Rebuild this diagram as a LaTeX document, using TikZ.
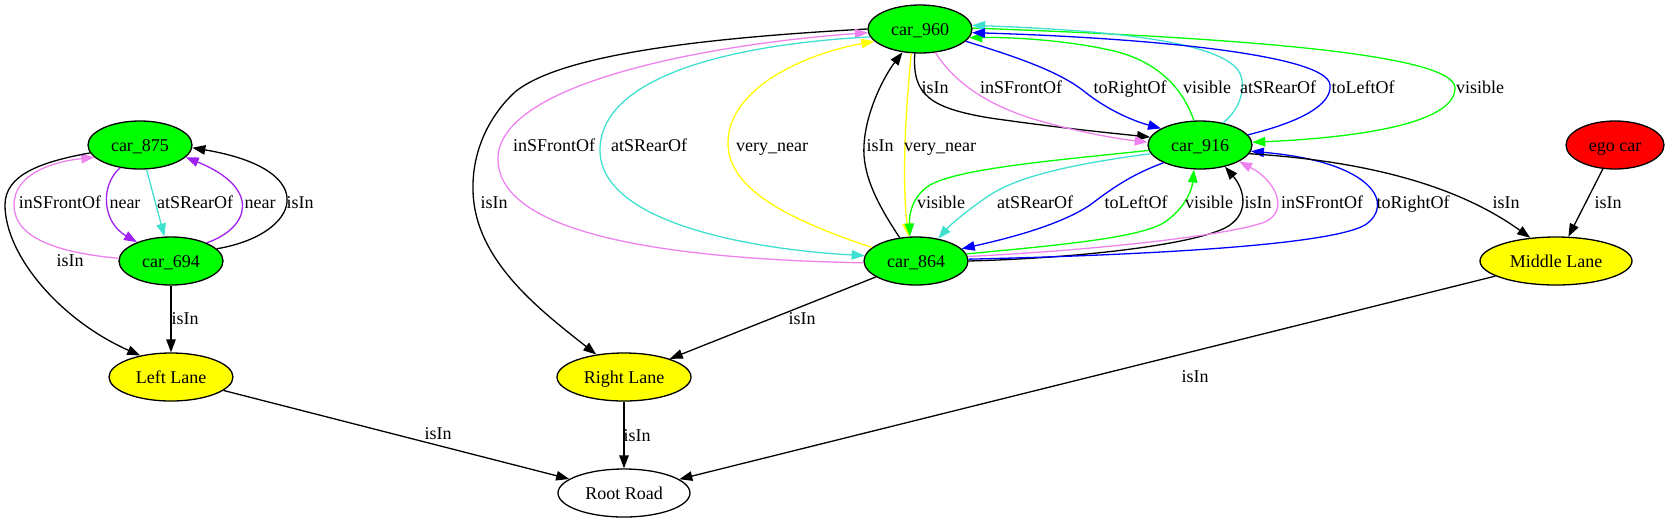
\documentclass[tikz,border=0pt]{standalone}
\usepackage{fontspec}
\setmainfont{Liberation Serif}
\usetikzlibrary{shapes.geometric,arrows.meta}
\definecolor{gvgreen}{RGB}{0,255,0}
\definecolor{gvyellow}{RGB}{255,255,0}
\definecolor{gvred}{RGB}{255,0,0}
\definecolor{cviolet}{RGB}{238,130,238}
\definecolor{cturq}{RGB}{64,224,208}
\definecolor{cpurple}{RGB}{160,32,240}
\definecolor{cblue}{RGB}{0,0,255}
\begin{document}
\begin{tikzpicture}[x=1pt,y=-1pt,font=\fontsize{18}{21}\selectfont,
  gnode/.style={ellipse,draw=black,line width=1.3pt,inner sep=0pt,minimum height=48pt,text height=12.5pt,text depth=0pt},
  car/.style={gnode,fill=gvgreen,minimum width=104pt},
  lane/.style={gnode,fill=gvyellow},
  edge/.style={line width=1.3pt,-{Triangle[length=13pt,width=9.5pt]}},
  lbl/.style={inner sep=0pt,text height=12pt,text depth=0pt,anchor=center}]
\useasboundingbox (0,0) rectangle (1669,523);
% nodes
\node[car] (n875) at (140,145) {car\_875};
\node[car] (n694) at (171,261) {car\_694};
\node[lane,minimum width=124pt] (nLL) at (171,377) {Left Lane};
\node[car] (n960) at (920,29) {car\_960};
\node[car] (n916) at (1200,145) {car\_916};
\node[gnode,fill=gvred,minimum width=98pt] (nego) at (1615,145) {ego car};
\node[car] (n864) at (916,261) {car\_864};
\node[lane,minimum width=152pt] (nML) at (1556,261) {Middle Lane};
\node[lane,minimum width=134pt] (nRL) at (624,377) {Right Lane};
\node[gnode,minimum width=132pt] (nRR) at (624,493) {Root Road};
% left cluster
\draw[edge,cviolet] (n694.177) .. controls (50,252) and (14,235) .. (14,205) .. controls (14,175) and (50,162) .. (n875.195);
\draw[edge,cpurple] (n875.229) .. controls (100,185) and (102,222) .. (n694.151);
\draw[edge,cturq] (n875.285) -- (n694.105);
\draw[edge,cpurple] (n694.27) .. controls (250,228) and (262,188) .. (n875.345);
\draw[edge] (n694.15) .. controls (300,235) and (325,170) .. (n875.357);
\draw[edge] (n875.189) .. controls (40,162) and (5,175) .. (5,205) .. controls (5,255) and (60,320) .. (nLL.145);
\draw[edge] (n694) -- (nLL);
\draw[edge] (nLL) -- (nRR);
% middle cluster
\draw[edge] (n960.180) .. controls (700,38) and (560,55) .. (515,92) .. controls (490,115) and (472,150) .. (473,190) .. controls (474,260) and (540,310) .. (nRL.141);
\draw[edge,cviolet] (n864.182) .. controls (720,260) and (500,245) .. (498,160) .. controls (496,85) and (700,45) .. (n960.184);
\draw[edge,cturq] (n960.189) .. controls (720,45) and (600,80) .. (600,150) .. controls (600,225) and (760,250) .. (n864.174);
\draw[edge,gvyellow] (n864.163) .. controls (790,220) and (728,190) .. (728,143) .. controls (728,90) and (800,55) .. (n960.195);
\draw[edge] (n864.125) .. controls (878,205) and (862,175) .. (864,145) .. controls (866,110) and (885,75) .. (n960.233);
\draw[edge,gvyellow] (n960.250) .. controls (905,120) and (902,180) .. (n864.107);
\draw[edge] (n864) -- (nRL);
\draw[edge] (nRL) -- (nRR);
% car_960 -> car_916
\draw[edge] (n960.258) .. controls (912,95) and (930,108) .. (990,118) .. controls (1060,128) and (1110,133) .. (n916.171);
\draw[edge,cviolet] (n960.303) .. controls (950,75) and (975,100) .. (1030,118) .. controls (1080,133) and (1120,139) .. (n916.177);
\draw[edge,cblue] (n960.345) .. controls (1020,58) and (1060,72) .. (1085,92) .. controls (1105,108) and (1130,120) .. (n916.157);
\draw[edge,gvgreen] (n960.1) .. controls (1250,38) and (1455,55) .. (1455,88) .. controls (1455,125) and (1350,138) .. (n916.3);
% car_916 -> car_960
\draw[edge,gvgreen] (n916.104) .. controls (1185,95) and (1165,65) .. (1118,52) .. controls (1070,40) and (1010,37) .. (n960.350);
\draw[edge,cturq] (n916.44) .. controls (1240,110) and (1248,85) .. (1238,70) .. controls (1215,40) and (1100,30) .. (n960.4);
\draw[edge,cblue] (n916.12) .. controls (1300,122) and (1332,105) .. (1330,85) .. controls (1328,55) and (1150,38) .. (n960.356);
% car_916 -> car_864
\draw[edge,gvgreen] (n916.186) .. controls (1060,160) and (960,168) .. (930,185) .. controls (912,196) and (909,215) .. (n864.104);
\draw[edge,cturq] (n916.190) .. controls (1080,163) and (1020,175) .. (990,195) .. controls (970,208) and (950,225) .. (n864.45);
\draw[edge,cblue] (n916.206) .. controls (1130,175) and (1110,190) .. (1090,205) .. controls (1060,225) and (1010,238) .. (n864.15);
% car_864 -> car_916
\draw[edge,gvgreen] (n864.8) .. controls (1060,245) and (1140,238) .. (1165,222) .. controls (1185,208) and (1192,190) .. (n916.256);
\draw[edge] (n864.0) .. controls (1080,258) and (1190,245) .. (1225,228) .. controls (1250,215) and (1245,190) .. (n916.319);
\draw[edge,cviolet] (n864.5) .. controls (1100,250) and (1230,235) .. (1265,222) .. controls (1290,210) and (1275,180) .. (n916.337);
\draw[edge,cblue] (n864.2) .. controls (1150,255) and (1330,245) .. (1365,225) .. controls (1395,205) and (1375,162) .. (n916.353);
% right
\draw[edge] (n916.350) .. controls (1350,160) and (1450,180) .. (nML.138);
\draw[edge] (nego) -- (nML);
\draw[edge] (nML) -- (nRR);
% labels
\node[lbl] (l1) at (60,202) {inSFrontOf};
\node[lbl] (l2) at (125,202) {near};
\node[lbl] (l3) at (195,202) {atSRearOf};
\node[lbl] (l4) at (260,202) {near};
\node[lbl] (l5) at (300,202) {isIn};
\node[lbl] (l6) at (70,260) {isIn};
\node[lbl] (l7) at (185,318) {isIn};
\node[lbl] (l8) at (438,433) {isIn};
\node[lbl] (l9) at (494,202) {isIn};
\node[lbl] (l10) at (554,145) {inSFrontOf};
\node[lbl] (l11) at (649,145) {atSRearOf};
\node[lbl] (l12) at (772,145) {very\_near};
\node[lbl] (l13) at (880,145) {isIn};
\node[lbl] (l14) at (940,145) {very\_near};
\node[lbl] (l15) at (935,87) {isIn};
\node[lbl] (l16) at (1021,87) {inSFrontOf};
\node[lbl] (l17) at (1130,87) {toRightOf};
\node[lbl] (l18) at (1207,87) {visible};
\node[lbl] (l19) at (1278,87) {atSRearOf};
\node[lbl] (l20) at (1363,87) {toLeftOf};
\node[lbl] (l21) at (1480,87) {visible};
\node[lbl] (l22) at (941,202) {visible};
\node[lbl] (l23) at (1035,202) {atSRearOf};
\node[lbl] (l24) at (1136,202) {toLeftOf};
\node[lbl] (l25) at (1209,202) {visible};
\node[lbl] (l26) at (1258,202) {isIn};
\node[lbl] (l27) at (1322,202) {inSFrontOf};
\node[lbl] (l28) at (1413,202) {toRightOf};
\node[lbl] (l29) at (1506,202) {isIn};
\node[lbl] (l30) at (1608,202) {isIn};
\node[lbl] (l31) at (802,318) {isIn};
\node[lbl] (l32) at (637,435) {isIn};
\node[lbl] (l33) at (1195,376) {isIn};
\end{tikzpicture}
\end{document}
